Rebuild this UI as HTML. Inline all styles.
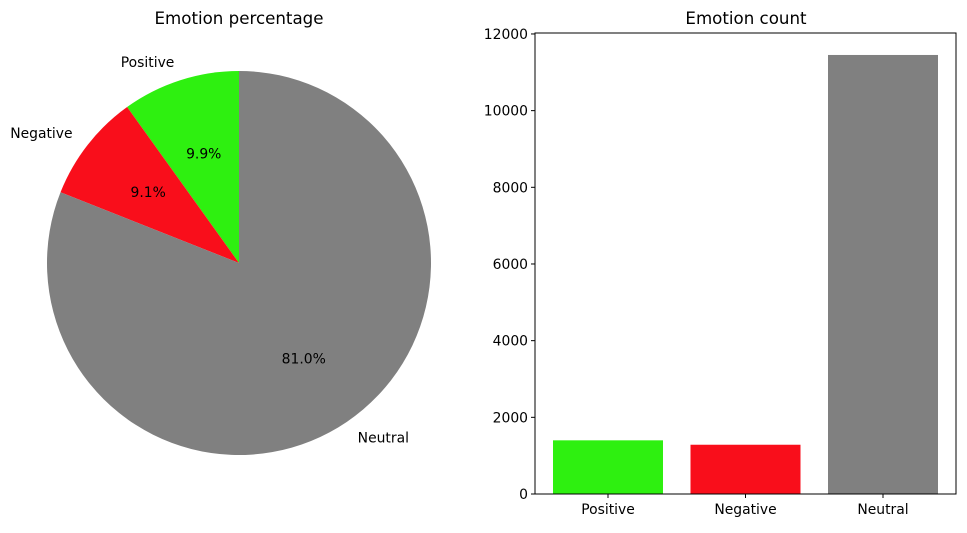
<!DOCTYPE html>
<html><head><meta charset="utf-8"><style>
body{margin:0;background:#fff;}
svg text{font-family:"DejaVu Sans","Liberation Sans",sans-serif;fill:#000;}
</style></head><body>
<svg id="chart" width="967" height="528" viewBox="0 0 967 528" xmlns="http://www.w3.org/2000/svg">
<text x="239" y="24" font-size="16.67" text-anchor="middle">Emotion percentage</text>
<text x="746" y="24" font-size="16.67" text-anchor="middle">Emotion count</text>
<g id="pie"></g>
<g id="bars"></g>
</svg>
<script>
const categories = ["Positive", "Negative", "Neutral"];
const counts = [1400, 1285, 11452];
const colors = ["#2ef010", "#f90e1b", "#808080"];
const yTicks = [0, 2000, 4000, 6000, 8000, 10000, 12000];

const NS = "http://www.w3.org/2000/svg";
function mk(tag, attrs, parent) { const e = document.createElementNS(NS, tag); for (const k in attrs) e.setAttribute(k, attrs[k]); parent.appendChild(e); return e; }

// Pie
const pie = document.getElementById("pie");
const cx = 239, cy = 263, r = 192;
const total = counts.reduce((a, b) => a + b, 0);
let ang = 90;
counts.forEach((v, i) => {
  const sweep = v / total * 360;
  const a0 = ang * Math.PI / 180, a1 = (ang + sweep) * Math.PI / 180;
  const x0 = cx + r * Math.cos(a0), y0 = cy - r * Math.sin(a0);
  const x1 = cx + r * Math.cos(a1), y1 = cy - r * Math.sin(a1);
  const large = sweep > 180 ? 1 : 0;
  const p = mk("path", { d: `M${cx},${cy} L${x0},${y0} A${r},${r} 0 ${large} 0 ${x1},${y1} Z`, fill: colors[i] }, pie);
  
  
  const mid = (ang + sweep / 2) * Math.PI / 180;
  const lx = cx + 1.1 * r * Math.cos(mid), ly = cy - 1.1 * r * Math.sin(mid);
  const lab = mk("text", { x: lx, y: ly + 5, "font-size": "13.9", "text-anchor": Math.cos(mid) < 0 ? "end" : "start" }, pie);
  lab.textContent = categories[i];
  
  
  const px = cx + 0.6 * r * Math.cos(mid), py = cy - 0.6 * r * Math.sin(mid);
  const pt = mk("text", { x: px, y: py + 5, "font-size": "13.9", "text-anchor": "middle" }, pie);
  pt.textContent = (v / total * 100).toFixed(1) + "%";
  
  
  ang += sweep;
});

// Bars
const bars = document.getElementById("bars");
const L = 535, R = 956, T = 33, B = 494, yMax = 12025;
const yS = v => B - v / yMax * (B - T);
const xS = i => 608 + 137.5 * i;
const bw = 110;
counts.forEach((v, i) => {
  const b = mk("rect", { x: xS(i) - bw / 2, y: yS(v), width: bw, height: B - yS(v), fill: colors[i] }, bars);
  
  
  mk("line", { x1: xS(i), x2: xS(i), y1: B, y2: B + 4, stroke: "#000" }, bars);
  const t = mk("text", { x: xS(i), y: B + 20, "font-size": "13.9", "text-anchor": "middle" }, bars);
  t.textContent = categories[i];
  
  
});
yTicks.forEach(v => {
  mk("line", { x1: L - 4, x2: L, y1: yS(v), y2: yS(v), stroke: "#000" }, bars);
  const t = mk("text", { x: L - 7, y: yS(v) + 5, "font-size": "13.9", "text-anchor": "end" }, bars);
  t.textContent = v;
  
  
});
const frame = mk("rect", { x: L, y: T, width: R - L, height: B - T, fill: "none", stroke: "#000", "stroke-width": "1" }, bars);


</script>
</body></html>
